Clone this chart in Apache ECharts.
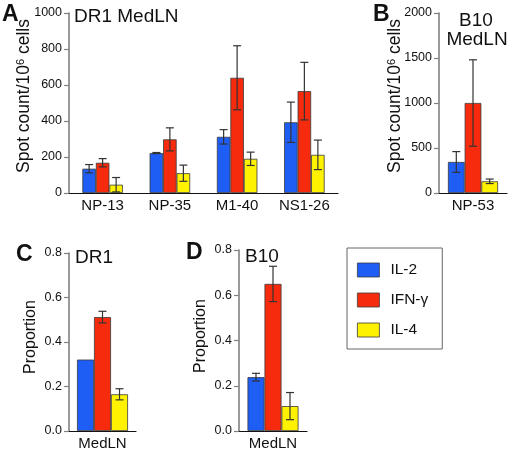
<!DOCTYPE html>
<html><head><meta charset="utf-8">
<script src="https://cdn.jsdelivr.net/npm/echarts@6/dist/echarts.min.js"></script>
<style>html,body{margin:0;padding:0;background:#fff}#c{width:511px;height:451px}</style>
</head><body><div id="c"></div>
<script>
// Panel A: DR1 MedLN
const catsA = ['NP-13', 'NP-35', 'M1-40', 'NS1-26'];
const il2A = [135, 222, 312, 393];
const il2ErrA = [23, 3, 40, 112];
const ifnA = [168, 298, 640, 566];
const ifnErrA = [23, 64, 178, 160];
const il4A = [46, 110, 190, 212];
const il4ErrA = [40, 45, 37, 82];
// Panel B: B10 MedLN
const catsB = ['NP-53'];
const il2B = [345];
const il2ErrB = [115];
const ifnB = [1000];
const ifnErrB = [480];
const il4B = [130];
const il4ErrB = [25];
// Panel C: DR1 proportion
const catsC = ['MedLN'];
const il2C = [0.321];
const il2ErrC = [0];
const ifnC = [0.512];
const ifnErrC = [0.026];
const il4C = [0.165];
const il4ErrC = [0.025];
// Panel D: B10 proportion
const catsD = ['MedLN'];
const il2D = [0.238];
const il2ErrD = [0.017];
const ifnD = [0.65];
const ifnErrD = [0.078];
const il4D = [0.11];
const il4ErrD = [0.06];

const names = ['IL-2', 'IFN-γ', 'IL-4'];
const colors = ['#1E5EF5', '#F62B0E', '#FFF200'];
const FONT = '"Liberation Sans", Arial, sans-serif';

const panels = [
  {cats: catsA, vals: [il2A, ifnA, il4A], errs: [il2ErrA, ifnErrA, il4ErrA], bw: 13.5,
   grid: {left: 69, top: 13, width: 269, height: 180}, min: 0, max: 1000, interval: 200, dec: 0},
  {cats: catsB, vals: [il2B, ifnB, il4B], errs: [il2ErrB, ifnErrB, il4ErrB], bw: 16.7,
   grid: {left: 439, top: 13, width: 68, height: 180}, min: 0, max: 2000, interval: 500, dec: 0},
  {cats: catsC, vals: [il2C, ifnC, il4C], errs: [il2ErrC, ifnErrC, il4ErrC], bw: 17,
   grid: {left: 69, top: 253, width: 67, height: 179}, min: 0, max: 0.8, interval: 0.2, dec: 1},
  {cats: catsD, vals: [il2D, ifnD, il4D], errs: [il2ErrD, ifnErrD, il4ErrD], bw: 17,
   grid: {left: 239, top: 250, width: 68, height: 181}, min: 0, max: 0.8, interval: 0.2, dec: 1}
];

const grids = [], xAxes = [], yAxes = [], series = [];
panels.forEach((p, gi) => {
  grids.push(Object.assign({containLabel: false}, p.grid));
  xAxes.push({
    type: 'category', gridIndex: gi, data: p.cats,
    axisLine: {lineStyle: {color: '#111', width: 1.2}},
    axisTick: {show: false},
    axisLabel: {color: '#111', fontSize: 15, fontFamily: FONT, margin: 5}
  });
  yAxes.push({
    type: 'value', gridIndex: gi, min: p.min, max: p.max, interval: p.interval,
    splitLine: {show: false},
    axisLine: {show: true, lineStyle: {color: '#808080', width: 1.6}},
    axisTick: {show: true, length: 5, lineStyle: {color: '#808080', width: 1.2}},
    axisLabel: {color: '#111', fontSize: 12.5, fontFamily: FONT, margin: 7,
      formatter: v => v.toFixed(p.dec)}
  });
  for (let k = 0; k < 3; k++) {
    series.push({
      type: 'bar', name: names[k], xAxisIndex: gi, yAxisIndex: gi,
      data: p.vals[k], barWidth: p.bw, barGap: '0%',
      itemStyle: {color: colors[k], borderColor: '#3a3a3a', borderWidth: 0.8},
      emphasis: {disabled: true}, animation: false
    });
  }
  for (let k = 0; k < 3; k++) {
    const off = (k - 1) * p.bw;
    series.push({
      type: 'custom', xAxisIndex: gi, yAxisIndex: gi, z: 5, silent: true, animation: false,
      data: p.cats.map((c, i) => [i, p.vals[k][i], p.errs[k][i]]),
      renderItem: (params, api) => {
        const i = api.value(0), v = api.value(1), e = api.value(2);
        if (!e) return null;
        const t = api.coord([i, v + e]);
        const b = api.coord([i, v - e]);
        const x = t[0] + off;
        const st = {stroke: '#333', lineWidth: 1.2};
        return {type: 'group', children: [
          {type: 'line', shape: {x1: x, y1: t[1], x2: x, y2: b[1]}, style: st},
          {type: 'line', shape: {x1: x - 4, y1: t[1], x2: x + 4, y2: t[1]}, style: st},
          {type: 'line', shape: {x1: x - 4, y1: b[1], x2: x + 4, y2: b[1]}, style: st}
        ]};
      }
    });
  }
});

function txt(x, y, s, size, bold, align) {
  return {type: 'text', x: x, y: y, style: {
    text: s, fill: '#111', font: (bold ? 'bold ' : '') + size + 'px ' + FONT,
    textAlign: align || 'left', textVerticalAlign: 'middle'}};
}
function vtxt(x, y, s, size) {
  return {type: 'text', x: x, y: y, rotation: Math.PI / 2, style: {
    text: s, fill: '#111', font: size + 'px ' + FONT,
    textAlign: 'center', textVerticalAlign: 'middle',
    rich: {sup: {fontSize: 11, fontFamily: FONT, fill: '#111', verticalAlign: 'top', padding: [0, 0, 7, 0]}}}};
}

const chart = echarts.init(document.getElementById('c'), null, {renderer: 'canvas'});
chart.setOption({
  animation: false,
  grid: grids, xAxis: xAxes, yAxis: yAxes, series: series,
  legend: {
    data: names, orient: 'vertical', left: 347, top: 248, icon: 'rect',
    padding: [14, 14, 11, 10], itemGap: 14, itemWidth: 22, itemHeight: 14,
    borderColor: '#666', borderWidth: 1,
    itemStyle: {borderColor: '#3a3a3a', borderWidth: 0.8},
    textStyle: {color: '#111', fontSize: 15.5, fontFamily: FONT, padding: [0, 0, 0, 6], lineHeight: 15},
    selectedMode: false
  },
  graphic: [
    txt(2, 15, 'A', 23, true),
    txt(74, 17, 'DR1 MedLN', 19),
    txt(373, 15, 'B', 23, true),
    txt(476, 21, 'B10', 19, false, 'center'),
    txt(477, 40, 'MedLN', 19, false, 'center'),
    txt(16, 255, 'C', 23, true),
    txt(75, 258, 'DR1', 19),
    txt(186, 253, 'D', 23, true),
    txt(245, 257, 'B10', 19),
    vtxt(24, 96, 'Spot count/10{sup|6} cells', 17.5),
    vtxt(395, 96, 'Spot count/10{sup|6} cells', 17.5),
    vtxt(31, 337, 'Proportion', 16),
    vtxt(201, 336, 'Proportion', 16)
  ]
});
</script></body></html>
